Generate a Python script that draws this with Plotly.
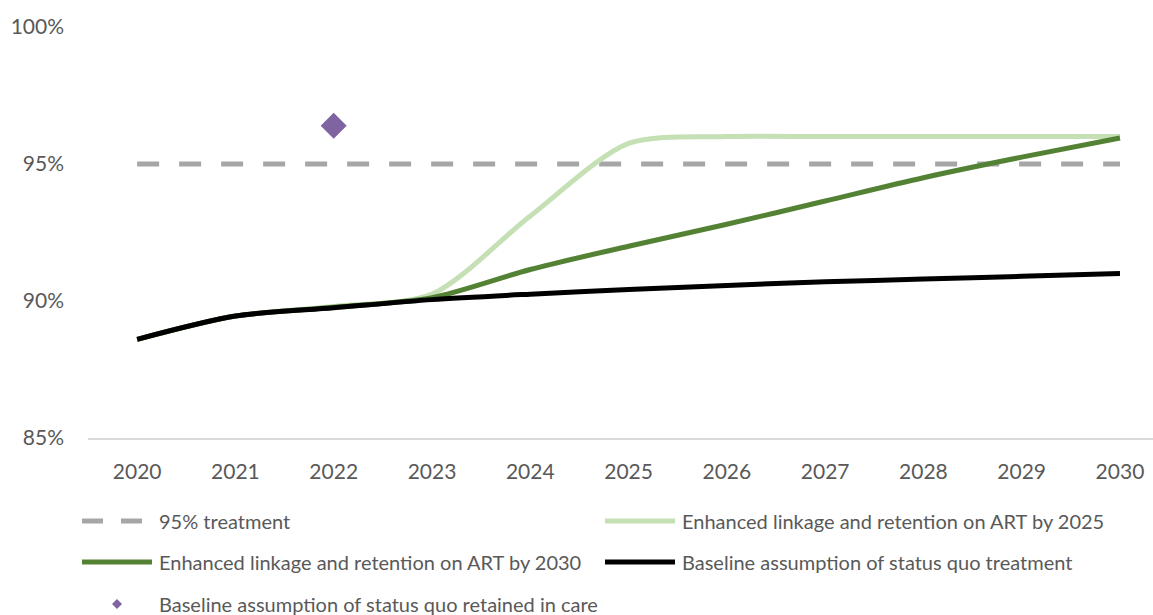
import plotly.graph_objects as go

# Years on the x axis
years = [2020, 2021, 2022, 2023, 2024, 2025, 2026, 2027, 2028, 2029, 2030]

# Share on treatment (%) for each scenario
target_95 = [95, 95, 95, 95, 95, 95, 95, 95, 95, 95, 95]
enhanced_2025 = [88.6, 89.45, 89.8, 90.25, 93.1, 95.75, 96.0, 96.0, 96.0, 96.0, 96.0]
enhanced_2030 = [88.6, 89.45, 89.77, 90.12, 91.15, 92.0, 92.8, 93.65, 94.5, 95.25, 95.95]
baseline_treat = [88.6, 89.45, 89.75, 90.05, 90.25, 90.42, 90.57, 90.7, 90.8, 90.9, 91.0]

# Single observed point: retained in care
retained_year = [2022]
retained_value = [96.4]

# Axis ticks
y_ticks = [85, 90, 95, 100]
y_tick_text = ["85%", "90%", "95%", "100%"]

labels = {
    "target": "95% treatment",
    "e2025": "Enhanced linkage and retention on ART by 2025",
    "e2030": "Enhanced linkage and retention on ART by 2030",
    "base": "Baseline assumption of status quo treatment",
    "retained": "Baseline assumption of status quo retained in care",
}

GRAY = "#A6A6A6"
LIGHT_GREEN = "#C5E0B4"
DARK_GREEN = "#548235"
BLACK = "#000000"
PURPLE = "#8064A2"
TEXT = "#595959"
FONT = "Lato"
TICK_SIZE = 21
LEGEND_SIZE = 20

W, H = 1153, 615
ML, MR, MT, MB = 88, 0, 27, 177
PW, PH = W - ML - MR, H - MT - MB

fig = go.Figure()
fig.add_trace(go.Scatter(x=years, y=target_95, mode="lines",
                         line=dict(color=GRAY, width=5, dash="22px,20px"),
                         name=labels["target"]))
fig.add_trace(go.Scatter(x=years, y=enhanced_2025, mode="lines",
                         line=dict(color=LIGHT_GREEN, width=5, shape="spline", smoothing=0.8),
                         name=labels["e2025"]))
fig.add_trace(go.Scatter(x=years, y=enhanced_2030, mode="lines",
                         line=dict(color=DARK_GREEN, width=5, shape="spline", smoothing=0.8),
                         name=labels["e2030"]))
fig.add_trace(go.Scatter(x=years, y=baseline_treat, mode="lines",
                         line=dict(color=BLACK, width=5, shape="spline", smoothing=0.8),
                         name=labels["base"]))
fig.add_trace(go.Scatter(x=retained_year, y=retained_value, mode="markers",
                         marker=dict(symbol="diamond", size=20, color=PURPLE),
                         name=labels["retained"]))


# Legend drawn below the plot, placed in pixel terms and converted to paper units
def px_x(px):
    return (px - ML) / PW


def px_y(py):
    return (H - MB - py) / PH


shapes = []
annotations = []


def legend_line(x0, x1, y, color):
    shapes.append(dict(type="line", xref="paper", yref="paper",
                       x0=px_x(x0), x1=px_x(x1), y0=px_y(y), y1=px_y(y),
                       line=dict(color=color, width=5)))


def legend_text(x, y, text):
    annotations.append(dict(xref="paper", yref="paper", x=px_x(x), y=px_y(y),
                            text=text, showarrow=False, xanchor="left", yanchor="middle",
                            font=dict(family=FONT, size=LEGEND_SIZE, color=TEXT)))


row_y = [521, 562, 604]
col_x = [82, 605]
sample_len = 70
text_gap = 75

legend_line(82, 103, row_y[0], GRAY)
legend_line(121, 142, row_y[0], GRAY)
legend_text(col_x[0] + text_gap, row_y[0], labels["target"])

legend_line(col_x[1], col_x[1] + sample_len, row_y[0], LIGHT_GREEN)
legend_text(col_x[1] + text_gap, row_y[0], labels["e2025"])

legend_line(col_x[0], col_x[0] + sample_len, row_y[1], DARK_GREEN)
legend_text(col_x[0] + text_gap, row_y[1], labels["e2030"])

legend_line(col_x[1], col_x[1] + sample_len, row_y[1], BLACK)
legend_text(col_x[1] + text_gap, row_y[1], labels["base"])

# small diamond marker for the retained-in-care entry
cx, cy, r = 117, row_y[2], 5
path = (f"M {px_x(cx - r)} {px_y(cy)} L {px_x(cx)} {px_y(cy - r)} "
        f"L {px_x(cx + r)} {px_y(cy)} L {px_x(cx)} {px_y(cy + r)} Z")
shapes.append(dict(type="path", xref="paper", yref="paper", path=path,
                   fillcolor=PURPLE, line=dict(width=0)))
legend_text(col_x[0] + text_gap, row_y[2], labels["retained"])

fig.update_layout(
    width=W, height=H,
    margin=dict(l=ML, r=MR, t=MT, b=MB),
    paper_bgcolor="white", plot_bgcolor="white",
    showlegend=False,
    font=dict(family=FONT, size=TICK_SIZE, color=TEXT),
    shapes=shapes, annotations=annotations,
    xaxis=dict(range=[2019.5, 2030.336], tickmode="array", tickvals=years,
               ticktext=[str(y) for y in years], showgrid=False, zeroline=False,
               showline=True, linecolor="#D9D9D9", linewidth=2,
               ticks="", ticklabelstandoff=14,
               tickfont=dict(family=FONT, size=TICK_SIZE, color=TEXT)),
    yaxis=dict(range=[85, 100], tickmode="array", tickvals=y_ticks, ticktext=y_tick_text,
               showgrid=False, zeroline=False, showline=False, ticks="",
               ticklabelstandoff=23,
               tickfont=dict(family=FONT, size=TICK_SIZE, color=TEXT)),
)

fig.write_html("out.html")
